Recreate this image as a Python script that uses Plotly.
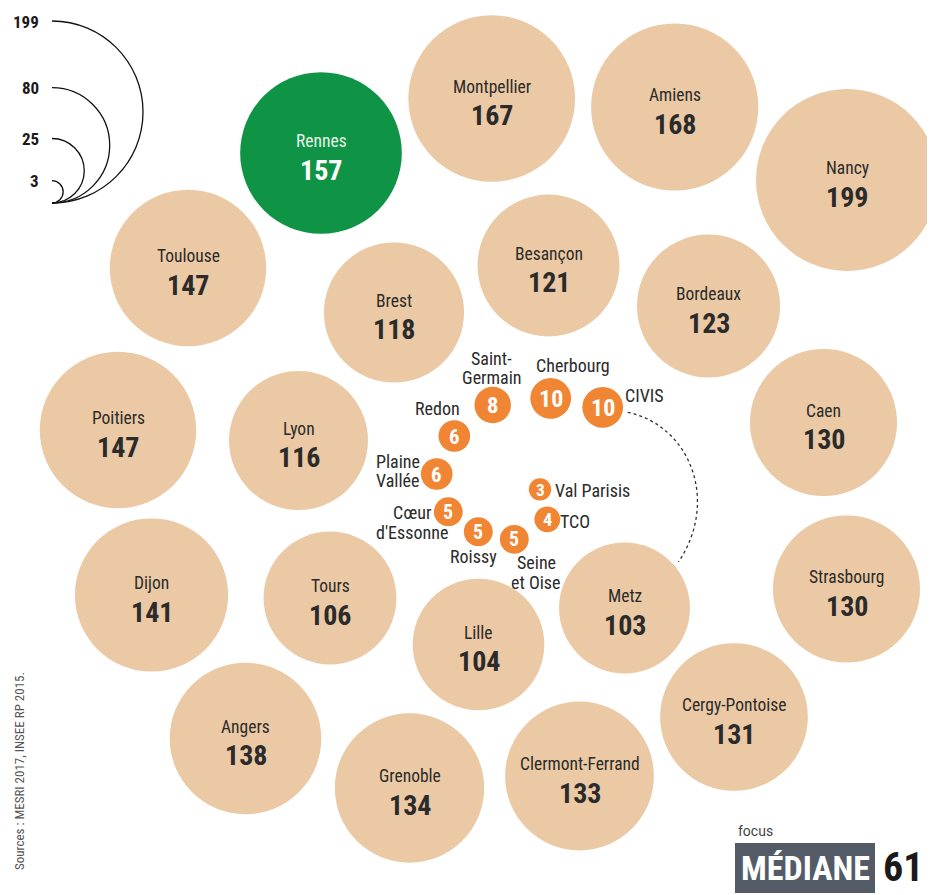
import numpy as np
import plotly.graph_objects as go

# ---------------- data ----------------
big_names = ["Montpellier", "Amiens", "Nancy", "Rennes", "Toulouse", "Besançon", "Brest",
             "Bordeaux", "Poitiers", "Lyon", "Caen", "Strasbourg", "Dijon", "Tours", "Lille",
             "Metz", "Cergy-Pontoise", "Angers", "Grenoble", "Clermont-Ferrand"]
big_values = [167, 168, 199, 157, 147, 121, 118, 123, 147, 116, 130, 130, 141, 106, 104,
              103, 131, 138, 134, 133]

small_names = ["Saint-<br>Germain", "Cherbourg", "CIVIS", "Redon", "Plaine<br>Vallée",
               "Val Parisis", "TCO", "Cœur<br>d'Essonne", "Roissy", "Seine<br>et Oise"]
small_values = [8, 10, 10, 6, 6, 3, 4, 5, 5, 5]

legend_values = [199, 80, 25, 3]

highlight = "Rennes"

# ---------------- layout (page pixel positions) ----------------
big_x = [491.7, 674.7, 847, 321, 188, 548.5, 394, 708.5, 118, 298.5, 823.5, 846.5, 151.5,
         330, 478.5, 624.5, 734, 245.5, 409.5, 579.5]
big_y = [98.5, 107, 180, 153, 268, 265.5, 312.5, 306, 430, 440.5, 422.5, 589, 595,
         598, 644.5, 608, 717, 738.5, 788, 776]

small_x = [492.7, 550.7, 602.7, 454.3, 436.7, 540, 547.3, 448.3, 478.3, 514.3]
small_y = [405, 398.3, 407.3, 436, 474, 489.3, 519.3, 511.7, 531.7, 539.3]
small_dx = [-1, 22, 42, -17, -39, 52, 28, -36, -5, 22]
small_dy = [-37, -33, -12, -28, -3, 1, 2, 11, 25, 33]

PAGE_W, PAGE_H = 935, 895
OFF = 8  # default page margin around the plot div
R_MAX, V_MAX = 91.0, 199.0


def radius(v):
    return R_MAX * np.sqrt(np.asarray(v, dtype=float) / V_MAX)


TAN = "#EAC9A4"
GREEN = "#0F9446"
ORANGE = "#F08533"
DARK = "#2B2B2B"
NARROW = "Roboto Condensed, Liberation Sans Narrow, DejaVu Sans Condensed, Arial Narrow, Roboto, sans-serif"

fig = go.Figure()

# big bubbles
big_colors = [GREEN if n == highlight else TAN for n in big_names]
fig.add_trace(go.Scatter(
    x=big_x, y=big_y, mode="markers",
    marker=dict(size=2 * radius(big_values), color=big_colors, line=dict(width=0), opacity=1),
    hoverinfo="text", text=[f"{n}: {v}" for n, v in zip(big_names, big_values)],
    showlegend=False))

# small bubbles
fig.add_trace(go.Scatter(
    x=small_x, y=small_y, mode="markers",
    marker=dict(size=2 * radius(small_values), color=ORANGE, line=dict(width=0), opacity=1),
    hoverinfo="text", text=[f"{n.replace('<br>', ' ')}: {v}" for n, v in zip(small_names, small_values)],
    showlegend=False))

# big labels: names and values
name_col = ["#E6F2E9" if n == highlight else DARK for n in big_names]
val_col = ["#FFFFFF" if n == highlight else DARK for n in big_names]
for n, v, x, y, c1, c2 in zip(big_names, big_values, big_x, big_y, name_col, val_col):
    fig.add_annotation(x=x, y=y - 12, text=n, showarrow=False,
                       font=dict(family=NARROW, size=17.5, color=c1), xanchor="center", yanchor="middle")
    fig.add_annotation(x=x, y=y + 17, text=f"<b>{v}</b>", showarrow=False,
                       font=dict(family=NARROW, size=28, color=c2), xanchor="center", yanchor="middle")

# small labels
for n, v, x, y, dx, dy in zip(small_names, small_values, small_x, small_y, small_dx, small_dy):
    r = float(radius(v))
    fig.add_annotation(x=x, y=y + 0.5, text=f"<b>{v}</b>", showarrow=False,
                       font=dict(family=NARROW, size=min(24.0, 0.75 * r + 9), color="white"),
                       xanchor="center", yanchor="middle")
    lines = n.split("<br>")
    k = len(lines)
    for i, ln in enumerate(lines):
        fig.add_annotation(x=x + dx, y=y + dy + (i - (k - 1) / 2) * 19.5, text=ln, showarrow=False,
                           font=dict(family=NARROW, size=18, color=DARK),
                           xanchor="center", yanchor="middle")

# dotted connector CIVIS -> Metz
ci = small_names.index("CIVIS")
mi = big_names.index("Metz")
x0, y0 = small_x[ci] + 25, small_y[ci] + 5
x1, y1 = big_x[mi] + 54, big_y[mi] - 46
fig.add_shape(type="path",
              path=f"M {x0},{y0} C {x0+62},{y0+13} {x0+92},{y0+88} {x1},{y1}",
              line=dict(color="#333333", width=1.3, dash="dot"), layer="above")

# legend: nested semicircles
LX, LB = 52, 203
kk = 0.5523
for v in legend_values:
    r = float(radius(v))
    cy = LB - r
    p = (f"M {LX},{cy-r} C {LX+kk*r},{cy-r} {LX+r},{cy-kk*r} {LX+r},{cy} "
         f"C {LX+r},{cy+kk*r} {LX+kk*r},{cy+r} {LX},{cy+r}")
    fig.add_shape(type="path", path=p, line=dict(color="#111111", width=1.3))
    fig.add_annotation(x=41, y=cy - r + 0.5, text=f"<b>{v}</b>", showarrow=False,
                       font=dict(family=NARROW, size=17, color="#1A1A1A"),
                       xanchor="right", yanchor="middle")

# sources
fig.add_annotation(x=19, y=771, text="Sources : MESRI 2017, INSEE RP 2015.", textangle=-90,
                   showarrow=False, font=dict(family=NARROW, size=13, color="#555555"),
                   xanchor="center", yanchor="middle")

# logo
fig.add_shape(type="rect", x0=735, x1=875, y0=843, y1=893, fillcolor="#535B67", line=dict(width=0))
fig.add_annotation(x=805, y=868, text="<b>MÉDIANE</b>", showarrow=False,
                   font=dict(family=NARROW, size=34, color="white"), xanchor="center", yanchor="middle")
fig.add_annotation(x=903, y=867, text="<b>61</b>", showarrow=False,
                   font=dict(family=NARROW, size=40, color="#1A1A1A"), xanchor="center", yanchor="middle")
fig.add_annotation(x=736, y=831, text="focus", showarrow=False,
                   font=dict(family="Roboto, sans-serif", size=14, color="#444444"),
                   xanchor="left", yanchor="middle")

fig.update_layout(
    width=PAGE_W - OFF, height=PAGE_H - OFF, margin=dict(l=0, r=0, t=0, b=0),
    paper_bgcolor="white", plot_bgcolor="white",
    xaxis=dict(range=[OFF, PAGE_W], visible=False, fixedrange=True),
    yaxis=dict(range=[PAGE_H, OFF], visible=False, fixedrange=True),
)

fig.write_html("out.html")
